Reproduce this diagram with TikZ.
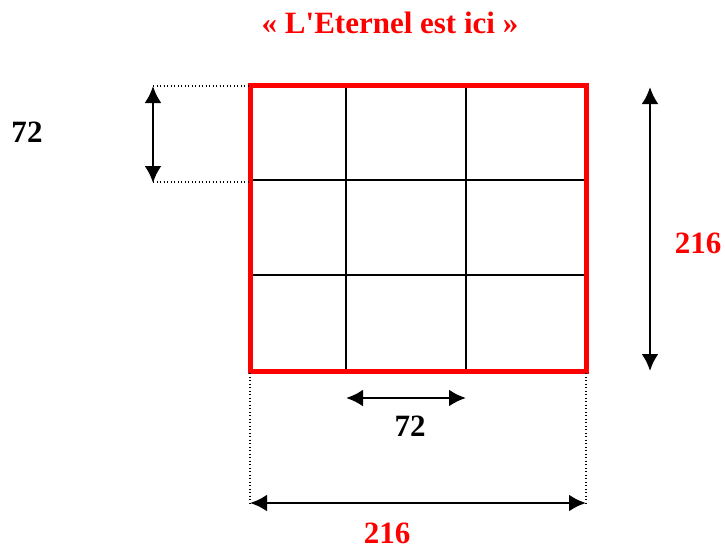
\documentclass[tikz,border=0pt]{standalone}
\usepackage{fontspec}
\setmainfont{Liberation Serif}[Ligatures=TeXOff]
\usetikzlibrary{arrows.meta}
\definecolor{myred}{RGB}{255,0,0}
\begin{document}
\begin{tikzpicture}[x=1pt,y=-1pt,
  frame/.style={draw=myred,line width=5pt},
  gridline/.style={draw=black,line width=1.5pt},
  dotline/.style={draw=black,line width=1.3pt,dash pattern=on 1.3pt off 2.2pt},
  dimarrow/.style={draw=black,line width=2.8pt,{Latex[length=17pt,width=17pt]}-{Latex[length=17pt,width=17pt]}},
  lbl/.style={font=\fontsize{31}{34}\selectfont\bfseries,inner sep=0pt},
  redlbl/.style={lbl,text=myred}]
\useasboundingbox (0,0) rectangle (725,549);
% grid
\coordinate (tl) at (250,85);
\coordinate (br) at (586,371);
\draw[gridline] (346,85) -- (346,371);
\draw[gridline] (466,85) -- (466,371);
\draw[gridline] (250,180) -- (586,180);
\draw[gridline] (250,275) -- (586,275);
\draw[frame] (tl) rectangle (br);
% dotted guides
\coordinate (lt1) at (153,86);
\coordinate (lt2) at (248,86);
\coordinate (lb1) at (153,182);
\coordinate (lb2) at (248,182);
\draw[dotline] (lt1) -- (lt2);
\draw[dotline] (lb1) -- (lb2);
\coordinate (dl1) at (250,373);
\coordinate (dl2) at (250,505);
\coordinate (dr1) at (586,373);
\coordinate (dr2) at (586,505);
\draw[dotline] (dl1) -- (dl2);
\draw[dotline] (dr1) -- (dr2);
% arrows
\coordinate (a1) at (153,86);
\coordinate (a2) at (153,183);
\draw[dimarrow] (a1) -- (a2);
\coordinate (b1) at (650,87);
\coordinate (b2) at (650,371);
\draw[dimarrow] (b1) -- (b2);
\coordinate (c1) at (346,398);
\coordinate (c2) at (466,398);
\draw[dimarrow] (c1) -- (c2);
\coordinate (d1) at (250,503);
\coordinate (d2) at (586,503);
\draw[dimarrow] (d1) -- (d2);
% labels
\node[redlbl] (title) at (390,23) {« L'Eternel est ici »};
\node[lbl] (l72a) at (27,132) {72};
\node[lbl] (l72b) at (410,426) {72};
\node[redlbl] (l216r) at (698,243) {216};
\node[redlbl] (l216b) at (387,533) {216};
\end{tikzpicture}
\end{document}
